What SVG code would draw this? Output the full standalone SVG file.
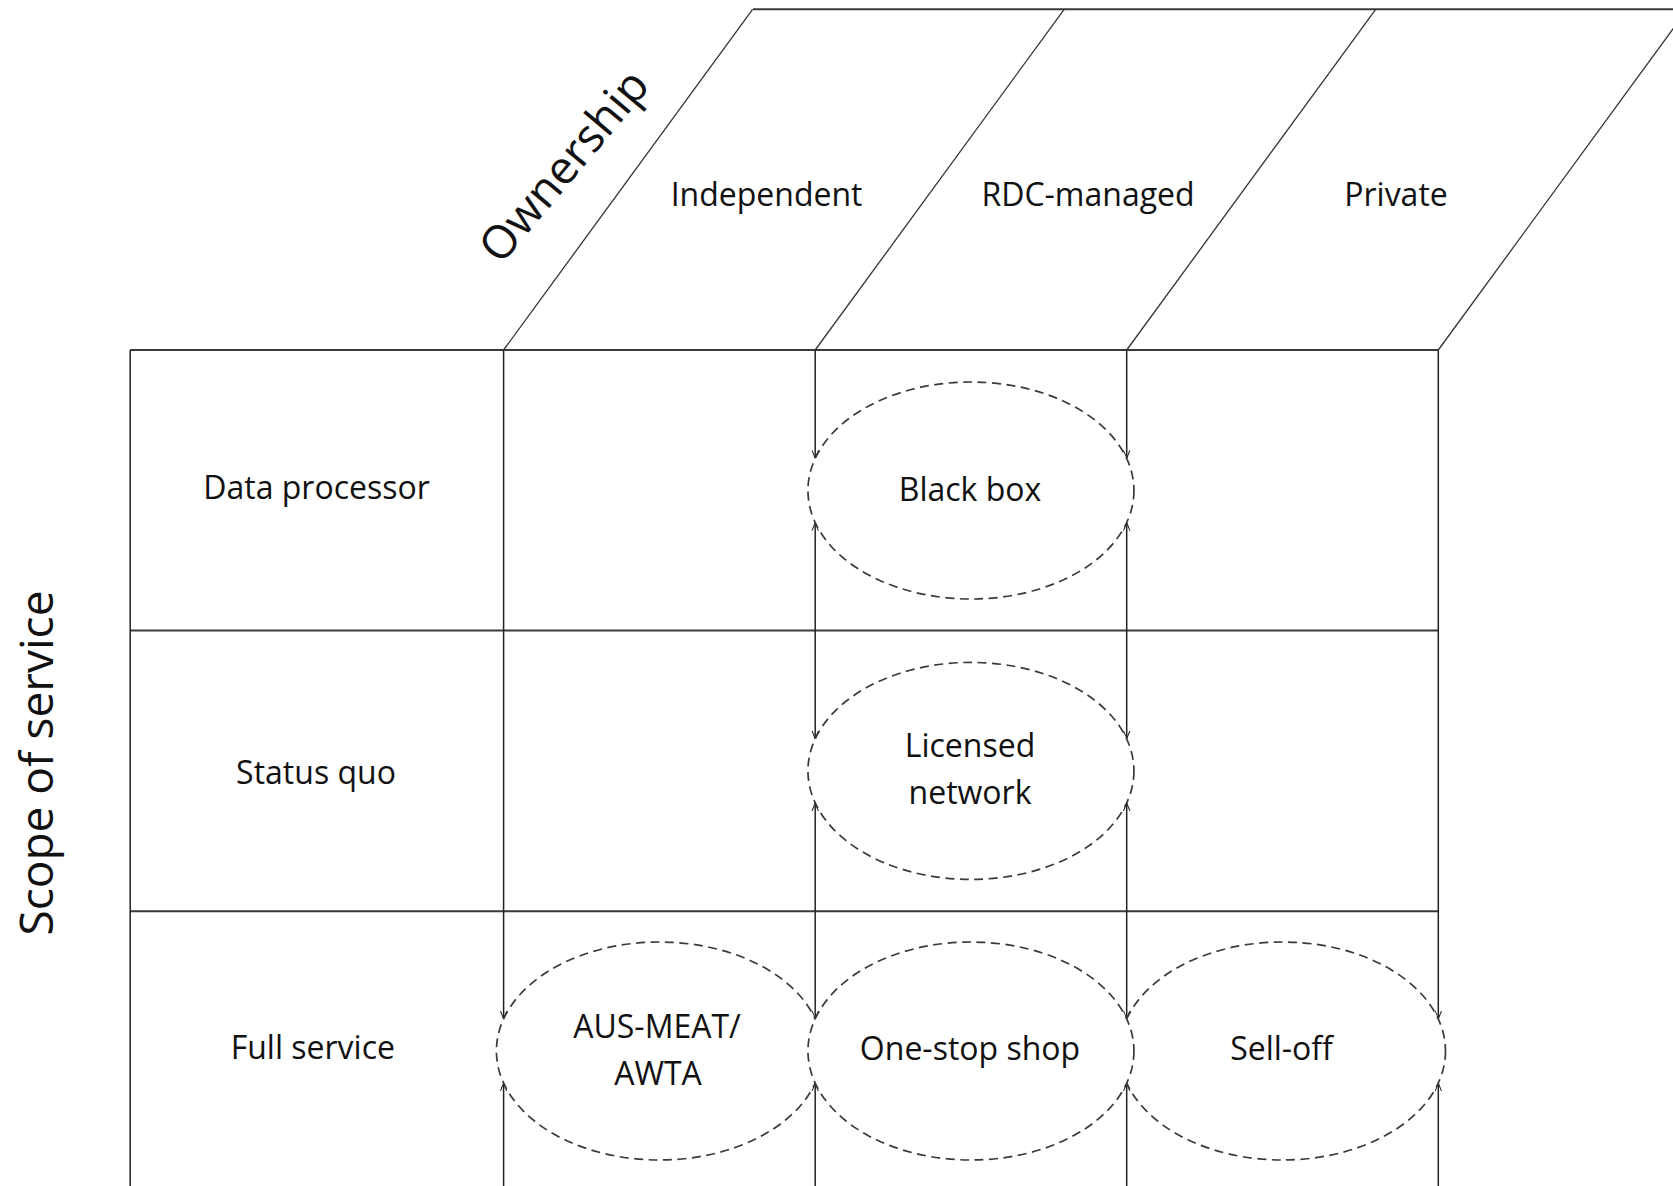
<svg xmlns="http://www.w3.org/2000/svg" width="1673" height="1186" viewBox="0 0 1673 1186">
<style>
.bg{fill:#ffffff}
.h{stroke:#3a3a3a;stroke-width:2;fill:none}
.v{stroke:#222222;stroke-width:1.5;fill:none}
.d{stroke:#333333;stroke-width:1.3;fill:none}
.ell{fill:#ffffff;stroke:#3a3a3a;stroke-width:1.7;stroke-dasharray:9 5.5}
.t{font-family:"Open Sans","Noto Sans","DejaVu Sans",sans-serif;font-size:32px;fill:#111111;text-anchor:middle}
.big{font-family:"Open Sans","Noto Sans","DejaVu Sans",sans-serif;font-size:46px;fill:#111111;text-anchor:middle}
</style>
<defs>
<marker id="arr" viewBox="0 0 10 10" refX="10" refY="5" markerWidth="8" markerHeight="8" markerUnits="userSpaceOnUse" orient="auto-start-reverse">
<path d="M0,1 L10,5 L0,9" fill="none" stroke="#222222" stroke-width="1.3"/>
</marker>
</defs>
<rect class="bg" x="0" y="0" width="1673" height="1186"/>

<g id="grid">
<line class="h" x1="753" y1="9.3" x2="1673" y2="9.3"/>
<line class="d" x1="503.6" y1="350" x2="752.6" y2="9.3"/>
<line class="d" x1="815.2" y1="350" x2="1064.2" y2="9.3"/>
<line class="d" x1="1126.7" y1="350" x2="1375.7" y2="9.3"/>
<line class="d" x1="1438.3" y1="350" x2="1687.3" y2="9.3"/>
<line class="h" x1="130.2" y1="350" x2="1438.3" y2="350"/>
<line class="h" x1="130.2" y1="630.6" x2="1438.3" y2="630.6"/>
<line class="h" x1="130.2" y1="911.2" x2="1438.3" y2="911.2"/>
<line class="v" x1="130.2" y1="350" x2="130.2" y2="1186"/>
</g>

<g id="connectors">
<line class="v" x1="503.6" y1="350" x2="503.6" y2="1018.9" marker-end="url(#arr)"/>
<line class="v" x1="503.6" y1="1083.1" x2="503.6" y2="1186" marker-start="url(#arr)"/>
<line class="v" x1="815.2" y1="350" x2="815.2" y2="458.4" marker-end="url(#arr)"/>
<line class="v" x1="815.2" y1="522.6" x2="815.2" y2="738.8" marker-start="url(#arr)" marker-end="url(#arr)"/>
<line class="v" x1="815.2" y1="803" x2="815.2" y2="1018.9" marker-start="url(#arr)" marker-end="url(#arr)"/>
<line class="v" x1="815.2" y1="1083.1" x2="815.2" y2="1186" marker-start="url(#arr)"/>
<line class="v" x1="1126.7" y1="350" x2="1126.7" y2="458.4" marker-end="url(#arr)"/>
<line class="v" x1="1126.7" y1="522.6" x2="1126.7" y2="738.8" marker-start="url(#arr)" marker-end="url(#arr)"/>
<line class="v" x1="1126.7" y1="803" x2="1126.7" y2="1018.9" marker-start="url(#arr)" marker-end="url(#arr)"/>
<line class="v" x1="1126.7" y1="1083.1" x2="1126.7" y2="1186" marker-start="url(#arr)"/>
<line class="v" x1="1438.3" y1="350" x2="1438.3" y2="1018.9" marker-end="url(#arr)"/>
<line class="v" x1="1438.3" y1="1083.1" x2="1438.3" y2="1186" marker-start="url(#arr)"/>
</g>

<g id="axis-ownership"><text class="big" transform="translate(576,176) rotate(-50)">Ownership</text></g>
<g id="axis-scope"><text class="big" transform="translate(53,763) rotate(-90)">Scope of service</text></g>

<g id="col-independent"><text class="t" x="766.6" y="206">Independent</text></g>
<g id="col-rdc"><text class="t" x="1088" y="206">RDC-managed</text></g>
<g id="col-private"><text class="t" x="1396" y="206">Private</text></g>

<g id="row-data"><text class="t" x="316.5" y="499">Data processor</text></g>
<g id="row-status"><text class="t" x="316" y="783.5">Status quo</text></g>
<g id="row-full"><text class="t" x="312.8" y="1058.5">Full service</text></g>

<g id="blackbox">
<ellipse class="ell" cx="970.95" cy="490.5" rx="163" ry="108.5"/>
<text class="t" x="970" y="501">Black box</text>
</g>
<g id="licensed">
<ellipse class="ell" cx="970.95" cy="770.9" rx="163" ry="108.5"/>
<text class="t" x="970" y="757">Licensed</text>
<text class="t" x="970" y="804">network</text>
</g>
<g id="ausmeat">
<ellipse class="ell" cx="659.4" cy="1051" rx="163" ry="109"/>
<text class="t" x="657" y="1037.5">AUS-MEAT/</text>
<text class="t" x="658" y="1085">AWTA</text>
</g>
<g id="selloff">
<ellipse class="ell" cx="1282.5" cy="1051" rx="163" ry="109"/>
<text class="t" x="1281.5" y="1060">Sell-off</text>
</g>
<g id="onestop">
<ellipse class="ell" cx="970.95" cy="1051" rx="163" ry="109"/>
<text class="t" x="970" y="1060">One-stop shop</text>
</g>
</svg>
